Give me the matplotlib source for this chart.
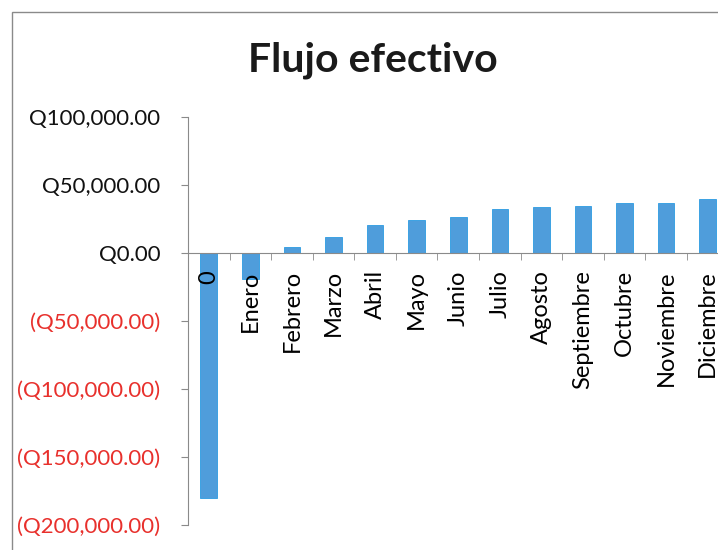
import numpy as np
import matplotlib
matplotlib.use("Agg")
import matplotlib.pyplot as plt
from matplotlib.patches import Rectangle
from matplotlib.ticker import FixedLocator

plt.rcParams['font.family'] = ['Lato', 'DejaVu Sans']

# monthly cash flow (Q)
meses = ['0', 'Enero', 'Febrero', 'Marzo', 'Abril', 'Mayo', 'Junio', 'Julio',
         'Agosto', 'Septiembre', 'Octubre', 'Noviembre', 'Diciembre']
flujo = [-180000, -19000, 4200, 11800, 20600, 24500, 26500, 32100,
         34000, 34600, 36800, 37000, 39700]
y_ticks = [-200000, -150000, -100000, -50000, 0, 50000, 100000]


def fmt_q(v):
    if v < 0:
        return '(Q{:,.2f})'.format(-v)
    return 'Q{:,.2f}'.format(v)


fig = plt.figure(figsize=(7.18, 5.5), dpi=100)
W, H = 718, 550

# chart area border
fig.patches.append(Rectangle((12 / W, -0.1), 1.2, 1 - 12 / H + 0.1,
                             transform=fig.transFigure, fill=False,
                             edgecolor='#8a8a8a', linewidth=1.0))

ax = fig.add_axes([188 / W, 1 - 525 / H, (728.5 - 188) / W, (525 - 117) / H])
ax.set_axisbelow(False)

x = np.arange(len(meses))
ax.bar(x, flujo, width=0.4, color='#4f9ddb', edgecolor='#2c9be2', linewidth=0.6, zorder=1)

ax.set_xlim(-0.5, len(meses) - 0.5)
ax.set_ylim(-200000, 100000)

for s in ['top', 'right']:
    ax.spines[s].set_visible(False)
ax.spines['bottom'].set_position(('data', 0))
ax.spines['bottom'].set_color('#8a8a8a')
ax.spines['left'].set_color('#8a8a8a')

ax.set_yticks(y_ticks)
ax.set_yticklabels([fmt_q(v) for v in y_ticks], fontsize=16)
for lbl, v in zip(ax.get_yticklabels(), y_ticks):
    lbl.set_color('#e8302c' if v < 0 else '#111111')
ax.tick_params(axis='y', direction='out', length=5, color='#8a8a8a', pad=15)

ax.set_xticks(x)
ax.set_xticklabels(meses, rotation=90, fontsize=17, va='top', ha='center')
ax.xaxis.set_minor_locator(FixedLocator(x[:-1] + 0.5))
ax.tick_params(axis='x', which='major', length=0, pad=12.5)
ax.tick_params(axis='x', which='minor', direction='out', length=5, color='#8a8a8a')

fig.text(373 / W, 1 - 71 / H, 'Flujo efectivo', ha='center', va='baseline',
         fontsize=29.5, fontweight='bold', color='#1a1a1a')

fig.savefig('out.png', dpi=100)
